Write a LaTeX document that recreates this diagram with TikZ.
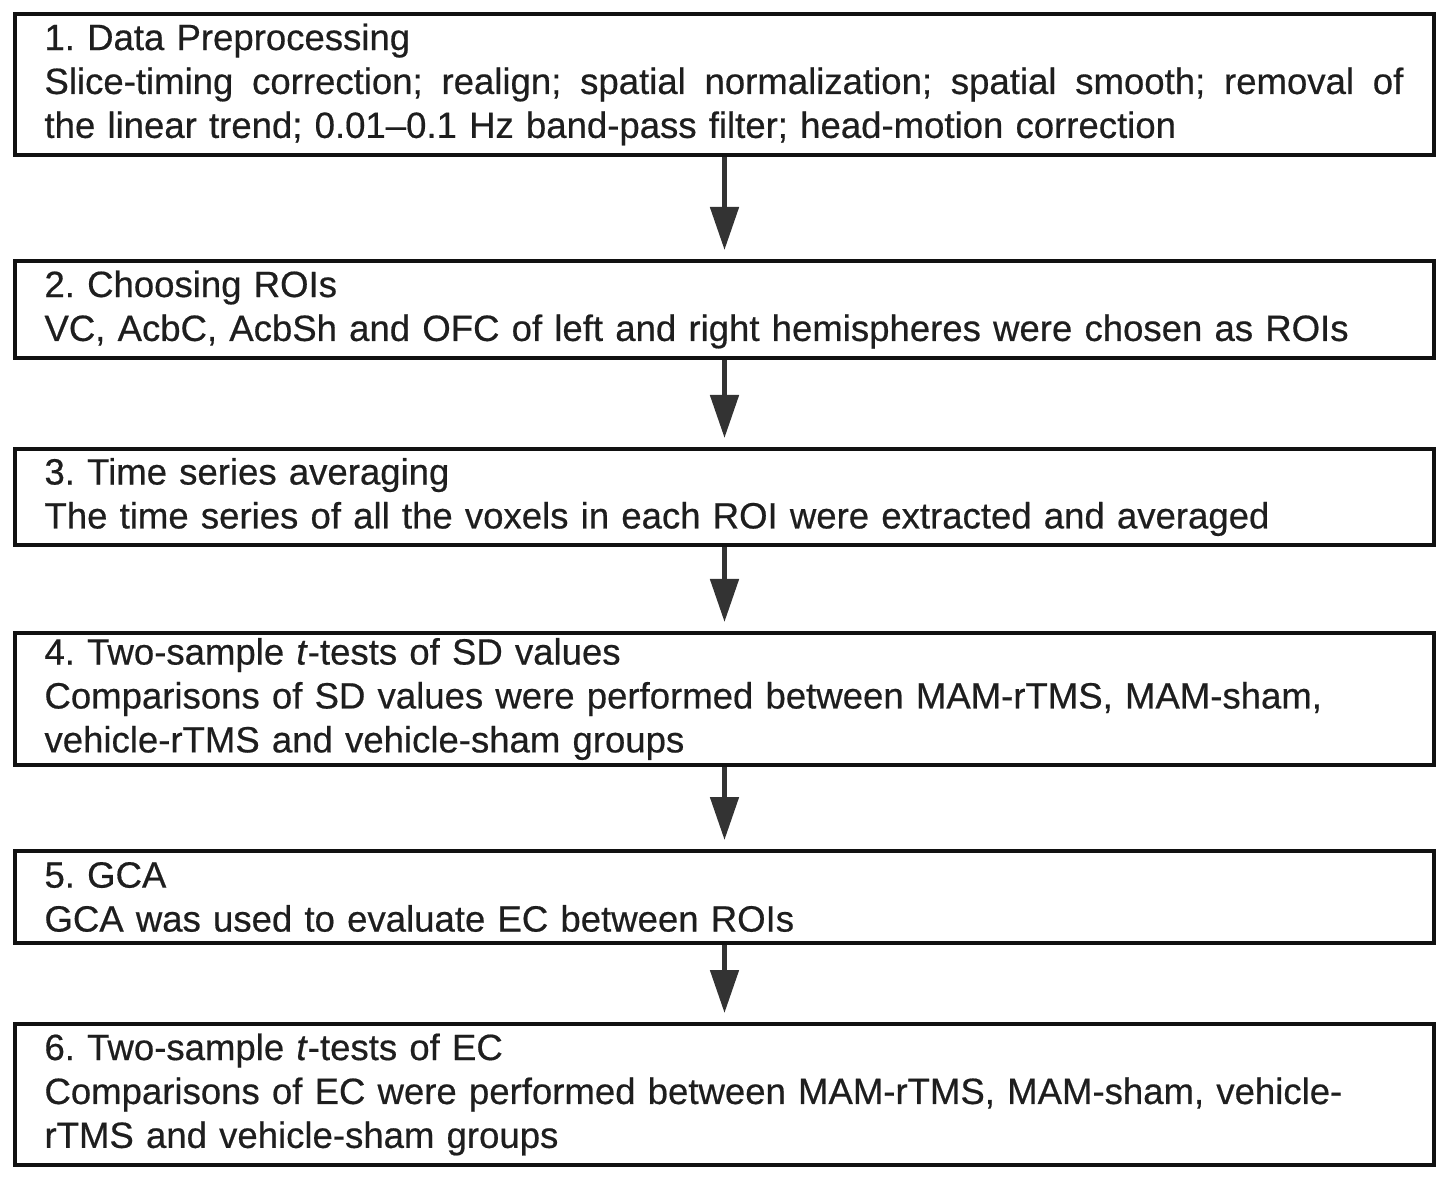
\documentclass[tikz,border=0pt]{standalone}
\usepackage{fontspec}
\setmainfont{Liberation Sans}[FakeBold=0.5]
\frenchspacing
\usetikzlibrary{arrows.meta, positioning}
\definecolor{boxline}{HTML}{111111}
\definecolor{flowarrow}{HTML}{333333}
\definecolor{bodytext}{HTML}{1E1E1E}

\begin{document}
\begin{tikzpicture}[>=Stealth]
    \tikzset{stepbox/.style={draw=boxline, line width=2.3pt, anchor=north, text width=27.2cm,
                             inner xsep=0.59cm, inner ysep=0pt, align=left, text=bodytext,
                             font=\fontsize{20.8}{25}\selectfont},
             arr/.style={-{Triangle[length=0.86cm, width=0.56cm]}, line width=2.8pt,
                         draw=flowarrow, shorten >=0.18cm}}
    \useasboundingbox (0,0) rectangle (29,-23.68);

    \node[stepbox, minimum height=2.82cm] (prep) at (14.49,-0.24)
        {1. Data Preprocessing\\\makebox[27.18cm][s]{\spaceskip=0.3333em plus 1em Slice-timing correction; realign; spatial normalization; spatial smooth; removal of}\\the linear trend; 0.01–0.1 Hz band-pass filter; head-motion correction};
    \node[stepbox, minimum height=1.94cm] (roi) at (14.49,-5.18)
        {2. Choosing ROIs\\VC, AcbC, AcbSh and OFC of left and right hemispheres were chosen as ROIs};
    \node[stepbox, minimum height=1.92cm] (avg) at (14.49,-8.94)
        {3. Time series averaging\\The time series of all the voxels in each ROI were extracted and averaged};
    \node[stepbox, minimum height=2.64cm] (sdtest) at (14.49,-12.62)
        {4. Two-sample \textit{t}-tests of SD values\\Comparisons of SD values were performed between MAM-rTMS, MAM-sham,\\vehicle-rTMS and vehicle-sham groups};
    \node[stepbox, minimum height=1.84cm] (gca) at (14.49,-16.98)
        {5. GCA\\GCA was used to evaluate EC between ROIs};
    \node[stepbox, minimum height=2.82cm] (ectest) at (14.49,-20.44)
        {6. Two-sample \textit{t}-tests of EC\\Comparisons of EC were performed between MAM-rTMS, MAM-sham, vehicle-\\rTMS and vehicle-sham groups};

    \draw[arr] (prep.south) -- (roi.north);
    \draw[arr] (roi.south) -- (avg.north);
    \draw[arr] (avg.south) -- (sdtest.north);
    \draw[arr] (sdtest.south) -- (gca.north);
    \draw[arr] (gca.south) -- (ectest.north);
\end{tikzpicture}
\end{document}
